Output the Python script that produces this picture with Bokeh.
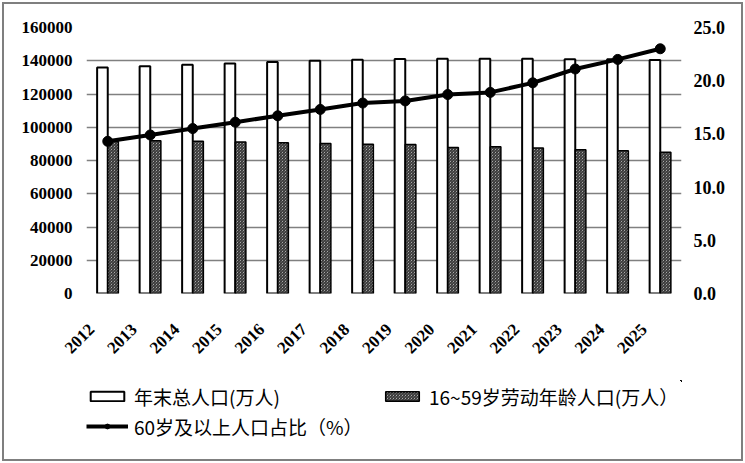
import math
from bokeh.plotting import figure
from bokeh.layouts import column
from bokeh.models import (Range1d, LinearAxis, Legend, LegendItem,
                          FixedTicker, NumeralTickFormatter, ColumnDataSource, InlineStyleSheet)
from bokeh.transform import dodge
from bokeh.embed import file_html
from bokeh.resources import INLINE

years = ["2012", "2013", "2014", "2015", "2016", "2017", "2018",
         "2019", "2020", "2021", "2022", "2023", "2024", "2025"]
total_pop = [135922, 136726, 137646, 138326, 139232, 140011, 140541,
             141008, 141212, 141260, 141175, 140967, 140828, 140400]
working_pop = [91400, 91954, 91583, 91096, 90747, 90199, 89729,
               89640, 87800, 88222, 87556, 86481, 85798, 84900]
elderly_ratio = [14.3, 14.9, 15.5, 16.1, 16.7, 17.3, 17.9,
                 18.1, 18.7, 18.9, 19.8, 21.1, 22.0, 23.0]
left_ticks = [0, 20000, 40000, 60000, 80000, 100000, 120000, 140000, 160000]
right_ticks = [0, 5, 10, 15, 20, 25]

label_total = "年末总人口(万人)"
label_working = "16~59岁劳动年龄人口(万人）"
label_ratio = "60岁及以上人口占比（%）"

n = len(years)
pos = [i + 0.5 for i in range(n)]  # category centres on a numeric axis
src = ColumnDataSource(dict(year=years, pos=pos, total=total_pop, working=working_pop, ratio=elderly_ratio))

GRID = "#808080"
NUMFONT = "Liberation Serif"

total_style = dict(fill_color="white", line_color="black", line_width=2)
working_style = dict(fill_color="white", line_color="black", line_width=1.5,
                     hatch_pattern="\\", hatch_color="#2a2a2a", hatch_scale=3, hatch_weight=1.2)
line_style = dict(line_color="black", line_width=4)
marker_style = dict(size=10, fill_color="black", line_color="black")

p = figure(x_range=Range1d(0, n), y_range=Range1d(0, 160000),
           frame_width=595, frame_height=266,
           min_border_left=86, min_border_right=64, min_border_top=27, min_border_bottom=87,
           output_backend="svg", toolbar_location=None)
p.outline_line_color = None
p.background_fill_color = "white"
p.border_fill_color = "white"

p.extra_y_ranges = {"r": Range1d(0, 25)}

ya = p.yaxis[0]
ya.ticker = FixedTicker(ticks=left_ticks)
ya.formatter = NumeralTickFormatter(format="0")
ya.axis_line_color = None
ya.major_tick_line_color = None
ya.minor_tick_line_color = None
ya.major_label_standoff = 8
ya.major_label_text_font = NUMFONT
ya.major_label_text_font_size = "17px"
ya.major_label_text_font_style = "bold"
ya.major_label_text_color = "black"

ra = LinearAxis(y_range_name="r", ticker=FixedTicker(ticks=right_ticks),
                formatter=NumeralTickFormatter(format="0.0"))
ra.axis_line_color = None
ra.major_tick_line_color = None
ra.minor_tick_line_color = None
ra.major_label_standoff = 6
ra.major_label_text_font = NUMFONT
ra.major_label_text_font_size = "18px"
ra.major_label_text_font_style = "bold"
ra.major_label_text_color = "black"
p.add_layout(ra, "right")

# default x axis hidden; year labels drawn by a slightly shifted label axis
p.xaxis[0].visible = False
label_shift = 0.38
p.extra_x_ranges = {"lab": Range1d(label_shift, n + label_shift)}
xa = LinearAxis(x_range_name="lab", ticker=FixedTicker(ticks=pos),
                major_label_overrides={t: y for t, y in zip(pos, years)})
xa.axis_line_color = None
xa.major_tick_line_color = None
xa.minor_tick_line_color = None
xa.major_label_orientation = math.pi / 4
xa.major_label_standoff = 27
xa.major_label_text_font = NUMFONT
xa.major_label_text_font_size = "17px"
xa.major_label_text_font_style = "bold"
xa.major_label_text_color = "black"
p.add_layout(xa, "below")

p.xgrid.visible = False
p.ygrid.ticker = FixedTicker(ticks=left_ticks)
p.ygrid.grid_line_color = GRID
p.ygrid.grid_line_width = 1.5

p.vbar(x=dodge("pos", -0.125), top="total", width=0.25, source=src, **total_style)
p.vbar(x=dodge("pos", 0.125), top="working", width=0.25, source=src, **working_style)
p.line(x="pos", y="ratio", y_range_name="r", source=src, **line_style)
p.scatter(x="pos", y="ratio", y_range_name="r", source=src, **marker_style)

# legend strip below the chart (glyph samples come from renderers whose marks lie far outside its view)
p2 = figure(x_range=Range1d(-3 * n, -2 * n), y_range=Range1d(-1000, -999),
            frame_width=595, frame_height=83,
            min_border_left=86, min_border_right=64, min_border_top=0, min_border_bottom=0,
            x_axis_location=None, y_axis_location=None,
            output_backend="svg", toolbar_location=None)
p2.outline_line_color = None
p2.grid.visible = False
p2.background_fill_color = "white"
p2.border_fill_color = "white"

d1 = p2.vbar(x="pos", top="total", width=0.25, source=src, **total_style)
d2 = p2.vbar(x="pos", top="working", width=0.25, source=src, **working_style)
d3 = p2.line(x="pos", y="ratio", source=src, **line_style)
d4 = p2.scatter(x="pos", y="ratio", source=src, **marker_style)

leg = Legend(items=[LegendItem(label=label_total, renderers=[d1]),
                    LegendItem(label=label_working, renderers=[d2]),
                    LegendItem(label=label_ratio, renderers=[d3, d4])],
             orientation="horizontal", ncols=2, location=(0, 22))
leg.margin = 0
leg.padding = 0
leg.spacing = 0
leg.border_line_alpha = 0
leg.background_fill_alpha = 0
leg.glyph_width = 42
leg.glyph_height = 12
leg.label_height = 30
leg.label_width = 247
leg.label_standoff = 6
leg.label_text_font = "Noto Sans CJK SC"
leg.label_text_font_size = "19px"
leg.label_text_color = "black"
p2.add_layout(leg)

layout = column(p, p2, spacing=0)
layout.stylesheets = [InlineStyleSheet(css=(
    ":host { position: relative; }"
    ":host::after { content: ''; position: absolute; left: 2px; top: 2px; right: 2px; bottom: 2px;"
    " border: 2px solid #7f7f7f; pointer-events: none; z-index: 100; }"))]

open("out.html", "w").write(file_html(layout, INLINE))
